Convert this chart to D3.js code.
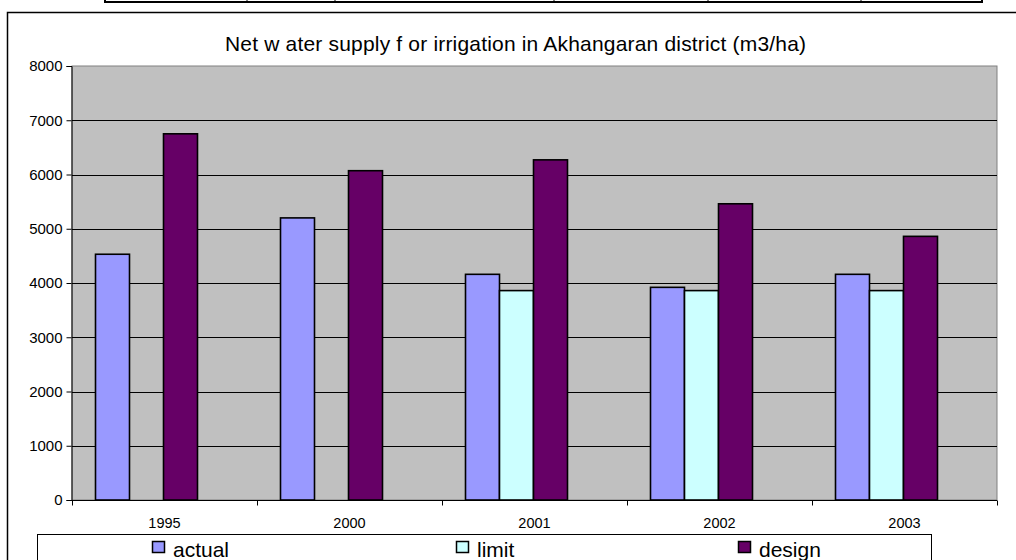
<!DOCTYPE html>
<html>
<head>
<meta charset="utf-8">
<script src="https://cdn.jsdelivr.net/npm/d3@7"></script>
<style>
  body { margin: 0; background: #fff; }
  svg { display: block; font-family: Arial, "Liberation Sans", sans-serif; }
</style>
</head>
<body>
<div id="chart"></div>
<script>
var years = ['1995', '2000', '2001', '2002', '2003'];
var actual = [4530, 5200, 4160, 3920, 4160];
var limit = [null, null, 3860, 3860, 3860];
var design = [6750, 6070, 6270, 5460, 4860];
var yTicks = [0, 1000, 2000, 3000, 4000, 5000, 6000, 7000, 8000];

var series = [
  {name: 'actual', values: actual, color: '#9999ff'},
  {name: 'limit', values: limit, color: '#ccffff'},
  {name: 'design', values: design, color: '#660066'}
];

var width = 1016,
    height = 560;

var plot = {left: 72, top: 66, right: 997, bottom: 500};

var svg = d3.select('#chart').append('svg')
  .attr('width', width)
  .attr('height', height);

// scrap of the table above the chart
var tableCols = [105, 247, 335, 554, 708, 861, 982];
svg.append('line')
  .attr('x1', 105).attr('x2', 982)
  .attr('y1', 2).attr('y2', 2)
  .attr('stroke', '#000').attr('stroke-width', 2);
svg.selectAll('.tcol')
  .data(tableCols)
  .enter().append('line')
  .attr('x1', function(d) { return d; })
  .attr('x2', function(d) { return d; })
  .attr('y1', 0).attr('y2', 3)
  .attr('stroke', '#000')
  .attr('stroke-width', function(d, i) { return (i == 0 || i == tableCols.length - 1) ? 2 : 1; });

// chart frame
svg.append('rect')
  .attr('x', 7.5).attr('y', 12.5)
  .attr('width', 1040).attr('height', 600)
  .attr('fill', '#fff')
  .attr('stroke', '#000')
  .attr('stroke-width', 1.5);

svg.append('text')
  .attr('x', 515.5)
  .attr('y', 51)
  .attr('text-anchor', 'middle')
  .attr('textLength', 581)
  .attr('lengthAdjust', 'spacing')
  .style('font-size', '21px')
  .text('Net w ater supply f or irrigation in Akhangaran district (m3/ha)');

var x = d3.scaleBand()
  .domain(years)
  .range([plot.left, plot.right])
  .paddingInner(0).paddingOuter(0);

var xSeries = d3.scaleBand()
  .domain(series.map(function(s) { return s.name; }))
  .range([23.5, 125.5])
  .padding(0);

var y = d3.scaleLinear()
  .domain([0, 8000])
  .range([plot.bottom, plot.top]);

// plot background
svg.append('rect')
  .attr('x', plot.left).attr('y', plot.top)
  .attr('width', plot.right - plot.left)
  .attr('height', plot.bottom - plot.top)
  .attr('fill', '#c0c0c0')
  .attr('stroke', '#808080')
  .attr('stroke-width', 1);

// gridlines
svg.selectAll('.grid')
  .data(yTicks.filter(function(d) { return d > 0 && d < 8000; }))
  .enter().append('line')
  .attr('x1', plot.left).attr('x2', plot.right)
  .attr('y1', function(d) { return Math.round(y(d)) + 0.5; })
  .attr('y2', function(d) { return Math.round(y(d)) + 0.5; })
  .attr('stroke', '#000')
  .attr('stroke-width', 1);

// bars
var groups = svg.selectAll('.series')
  .data(series)
  .enter().append('g');

groups.selectAll('rect')
  .data(function(s) {
    return years.map(function(yr, i) { return {year: yr, value: s.values[i], s: s}; })
      .filter(function(d) { return d.value != null; });
  })
  .enter().append('rect')
  .attr('x', function(d) { return x(d.year) + xSeries(d.s.name); })
  .attr('y', function(d) { return y(d.value); })
  .attr('width', xSeries.bandwidth())
  .attr('height', function(d) { return plot.bottom - y(d.value); })
  .attr('fill', function(d) { return d.s.color; })
  .attr('stroke', '#000')
  .attr('stroke-width', 1.6);

// y axis
var yAxis = svg.append('g')
  .attr('transform', 'translate(' + (plot.left - 0.5) + ',0)')
  .call(d3.axisLeft(y).tickValues(yTicks).tickSize(5).tickPadding(4).tickFormat(d3.format('d')));
yAxis.select('.domain').attr('stroke', '#000');
yAxis.selectAll('text').style('font-size', '15px').style('font-family', 'Arial, "Liberation Sans", sans-serif').attr('fill', '#000');

// x axis: ticks at category boundaries
var xAxis = svg.append('g')
  .attr('transform', 'translate(0,' + (plot.bottom + 0.5) + ')');
xAxis.append('line')
  .attr('x1', plot.left).attr('x2', plot.right)
  .attr('stroke', '#000');
var bounds = years.map(function(d) { return x(d); }).concat([plot.right]);
xAxis.selectAll('.xtick')
  .data(bounds)
  .enter().append('line')
  .attr('x1', function(d) { return Math.round(d) + 0.5; })
  .attr('x2', function(d) { return Math.round(d) + 0.5; })
  .attr('y1', 0).attr('y2', 5)
  .attr('stroke', '#000');
xAxis.selectAll('.xlabel')
  .data(years)
  .enter().append('text')
  .attr('x', function(d) { return x(d) + x.bandwidth() / 2; })
  .attr('y', 27.5)
  .attr('text-anchor', 'middle')
  .style('font-size', '14.5px')
  .text(function(d) { return d; });

// legend
var legend = svg.append('g');
legend.append('rect')
  .attr('x', 37.5).attr('y', 534.5)
  .attr('width', 894).attr('height', 60)
  .attr('fill', '#fff')
  .attr('stroke', '#000')
  .attr('stroke-width', 1);

var legendX = [152, 456, 738];
var items = legend.selectAll('.item')
  .data(series)
  .enter().append('g')
  .attr('transform', function(d, i) { return 'translate(' + legendX[i] + ',0)'; });
items.append('rect')
  .attr('x', 0.5).attr('y', 541.5)
  .attr('width', 12).attr('height', 11)
  .attr('fill', function(d) { return d.color; })
  .attr('stroke', '#000')
  .attr('stroke-width', 1.5);
items.append('text')
  .attr('x', 21)
  .attr('y', 557)
  .style('font-size', '21px')
  .text(function(d) { return d.name; });
</script>
</body>
</html>
